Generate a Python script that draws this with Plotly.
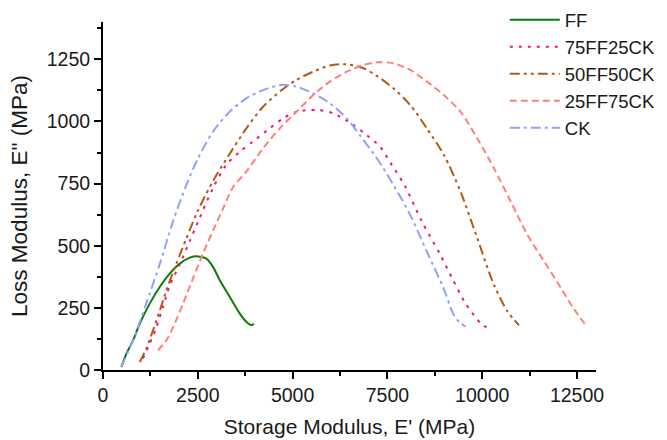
import plotly.graph_objects as go

# FF
ff_x = [484, 616, 792, 968, 1232, 1496, 1760, 2024, 2288, 2508, 2728, 2904, 3080, 3344, 3608, 3784, 3916, 3978]
ff_y = [12, 66, 119, 186, 267, 334, 388, 428, 452, 457, 448, 414, 361, 294, 227, 193, 180, 186]

# 75FF25CK
s75_x = [1050, 1230, 1410, 1580, 1760, 2015, 2280, 2544, 2897, 3250, 3603, 3955, 4396, 4749, 5102, 5631,
         6072, 6601, 6954, 7307, 7615, 7969, 8411, 8897, 9207, 9560, 9958, 10180]
s75_y = [46, 106, 173, 253, 340, 422, 516, 610, 731, 825, 878, 919, 972, 1012, 1039, 1046,
         1033, 986, 945, 898, 825, 738, 597, 463, 369, 268, 188, 165]

# 50FF50CK
s50_x = [970, 1140, 1320, 1500, 1670, 1940, 2200, 2500, 2900, 3300, 3780, 4220, 4700, 5100, 5540, 5980,
         6430, 6870, 7220, 7660, 8100, 8540, 8990, 9430, 9870, 10310, 10670, 10970]
s50_y = [32, 86, 160, 240, 320, 430, 530, 640, 760, 860, 972, 1059, 1125, 1167, 1200, 1225,
         1230, 1214, 1183, 1133, 1066, 972, 865, 717, 530, 342, 235, 180]

# 25FF75CK
s25_x = [1450, 1670, 1850, 2110, 2376, 2640, 2900, 3168, 3432, 3779, 4220, 4661, 5102, 5543, 5984, 6425,
         6866, 7250, 7659, 8101, 8543, 8985, 9427, 9869, 10311, 10753, 11195, 11637, 12079, 12420, 12760]
s25_y = [79, 119, 173, 267, 370, 470, 560, 650, 736, 798, 892, 972, 1039, 1106, 1160, 1200,
         1227, 1238, 1234, 1207, 1160, 1106, 1039, 932, 811, 677, 543, 436, 329, 245, 175]

# CK
ck_x = [480, 790, 1140, 1500, 1850, 2200, 2500, 2900, 3340, 3780, 4220, 4700, 5100, 5540, 5980, 6430,
        6800, 7220, 7660, 8100, 8540, 8980, 9250, 9430, 9560]
ck_y = [12, 119, 267, 428, 600, 745, 850, 959, 1039, 1093, 1126, 1147, 1140, 1113, 1073, 1012,
        939, 852, 744, 624, 476, 329, 221, 188, 175]

x_ticks = [0, 2500, 5000, 7500, 10000, 12500]
y_ticks = [0, 250, 500, 750, 1000, 1250]

series = [
    ("FF", ff_x, ff_y, "#0b7d0b", "solid"),
    ("75FF25CK", s75_x, s75_y, "#f5137d", "3px,6px"),
    ("50FF50CK", s50_x, s50_y, "#b35a16", "10px,4px,3px,4px,3px,4px"),
    ("25FF75CK", s25_x, s25_y, "#ff8078", "7px,4px"),
    ("CK", ck_x, ck_y, "#8fa0ff", "10px,4px,3px,4px"),
]

fig = go.Figure()
for name, xs, ys, col, dash in series:
    fig.add_trace(go.Scatter(x=xs, y=ys, name=name, mode="lines",
                             line=dict(color=col, width=2, dash=dash, shape="spline", smoothing=0.8)))

font = "Liberation Sans, Arial, sans-serif"
fig.update_layout(
    width=667, height=440,
    margin=dict(l=103, r=71, t=22, b=70, autoexpand=False),
    plot_bgcolor="white", paper_bgcolor="white",
    font=dict(family=font, size=19.5, color="#1a1a1a"),
    showlegend=True,
    legend=dict(x=0.815, y=1.06, xanchor="left", yanchor="top", bgcolor="rgba(0,0,0,0)",
                font=dict(size=18.5, color="#1a1a1a"), itemwidth=50, tracegroupgap=0),
    xaxis=dict(range=[0, 13000], tickvals=x_ticks, ticktext=[str(v) for v in x_ticks],
               showgrid=False, zeroline=False, showline=True, linecolor="black", linewidth=2,
               ticks="outside", ticklen=7, tickwidth=1.5, tickcolor="black",
               minor=dict(ticks="outside", ticklen=4, tickwidth=1.5, tickcolor="black", dtick=1250),
               title=dict(text="Storage Modulus, E' (MPa)", font=dict(size=21), standoff=14)),
    yaxis=dict(range=[0, 1400], tickvals=y_ticks, ticktext=[str(v) for v in y_ticks],
               showgrid=False, zeroline=False, showline=True, linecolor="black", linewidth=2,
               ticks="outside", ticklen=7, tickwidth=1.5, tickcolor="black",
               minor=dict(ticks="outside", ticklen=4, tickwidth=1.5, tickcolor="black", dtick=125),
               title=dict(text='Loss Modulus, E" (MPa)', font=dict(size=22.5), standoff=13)),
)

fig.write_html("out.html")
